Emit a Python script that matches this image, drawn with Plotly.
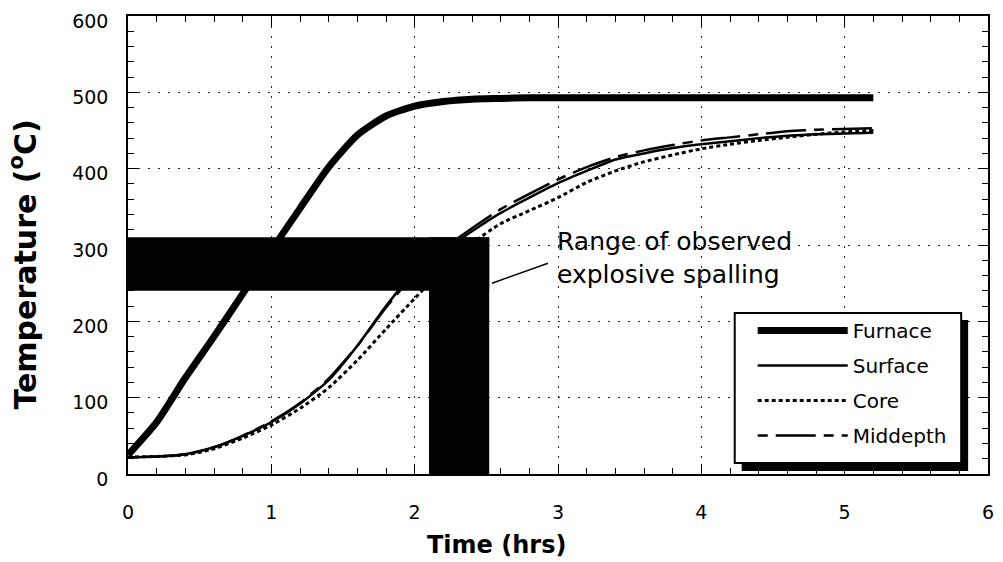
import plotly.graph_objects as go

# Time axis shared by all temperature records (hours)
time_hrs = [0, 0.2, 0.4, 0.6, 0.8, 1.0, 1.2, 1.4, 1.6, 1.8, 2.0, 2.2, 2.4,
            2.6, 2.8, 3.0, 3.2, 3.4, 3.6, 3.8, 4.0, 4.2, 4.4, 4.6, 4.8, 5.0, 5.2]

# Temperatures (deg C)
furnace = [25, 68, 126, 180, 236, 293, 348, 402, 444, 469, 482, 488, 491,
           492, 493, 493, 493, 493, 493, 493, 493, 493, 493, 493, 493, 493, 493]
surface = [22, 23, 26, 35, 50, 68, 92, 123, 168, 220, 265, 292, 318,
           342, 362, 381, 397, 412, 420, 427, 432, 436, 440, 443, 445, 446, 447]
core = [22, 23, 25, 33, 47, 64, 86, 113, 149, 190, 230, 268, 302,
        328, 345, 362, 382, 397, 409, 418, 426, 432, 437, 441, 445, 448, 450]
middepth = [22, 23, 26, 35, 50, 69, 93, 125, 168, 218, 262, 295, 322,
            347, 367, 386, 402, 415, 424, 431, 437, 441, 445, 449, 451, 452, 453]

# Range of observed explosive spalling
spall_time = [2.1, 2.52]     # hours
spall_temp = [240, 310]      # deg C

x_ticks = [0, 1, 2, 3, 4, 5, 6]
y_ticks = [0, 100, 200, 300, 400, 500, 600]

FONT = "DejaVu Sans"

fig = go.Figure()

series = [
    ("Furnace", furnace, dict(color="black", width=7)),
    ("Surface", surface, dict(color="black", width=2.5)),
    ("Core", core, dict(color="black", width=3, dash="4px,3px")),
    ("Middepth", middepth, dict(color="black", width=2.5, dash="10px,8px,40px,8px")),
]
for name, vals, line in series:
    fig.add_trace(go.Scatter(
        x=time_hrs, y=vals, name=name, mode="lines",
        line=dict(shape="spline", smoothing=0.6, **line),
        legendgroup=name,
    ))

# Spalling band: horizontal temperature range and vertical time range
fig.add_shape(type="rect", xref="x", yref="y",
              x0=0, x1=spall_time[1], y0=spall_temp[0], y1=spall_temp[1],
              fillcolor="black", line=dict(width=0), layer="above")
fig.add_shape(type="rect", xref="x", yref="y",
              x0=spall_time[0], x1=spall_time[1], y0=0, y1=spall_temp[1],
              fillcolor="black", line=dict(width=0), layer="above")

# Leader line from the band to its label
fig.add_shape(type="line", xref="x", yref="y",
              x0=spall_time[1] + 0.02, y0=250, x1=2.93, y1=276,
              line=dict(color="black", width=1.5), layer="above")
fig.add_annotation(x=2.98, y=283, xref="x", yref="y",
                   text="Range of observed<br>explosive spalling",
                   showarrow=False, xanchor="left", yanchor="middle", align="left",
                   font=dict(family=FONT, size=25, color="black"))

# Legend frame with a drop shadow; the legend entries sit on top of it
fig.add_shape(type="rect", xref="paper", yref="paper",
              x0=0.7136, x1=0.9769, y0=0.0066, y1=0.3362,
              fillcolor="black", line=dict(width=0), layer="above")
fig.add_shape(type="rect", xref="paper", yref="paper",
              x0=0.7055, x1=0.9688, y0=0.0240, y1=0.3515,
              fillcolor="white", line=dict(color="black", width=2), layer="above")

# Axis titles
fig.add_annotation(x=0.4284, y=-0.155, xref="paper", yref="paper",
                   text="<b>Time (hrs)</b>", showarrow=False,
                   xanchor="center", yanchor="middle",
                   font=dict(family=FONT, size=24, color="black"))
fig.add_annotation(x=-0.1212, y=0.457, xref="paper", yref="paper",
                   text="<b>Temperature (<sup>o</sup>C)</b>", showarrow=False,
                   textangle=-90, xanchor="center", yanchor="middle",
                   font=dict(family=FONT, size=30, color="black"))

axis_common = dict(
    showline=True, linecolor="black", linewidth=1.5, mirror="ticks",
    ticks="inside", ticklen=10, tickwidth=1.2, tickcolor="black",
    showgrid=True, gridcolor="#222", gridwidth=1, griddash="2px,8px",
    zeroline=False, ticklabeloverflow="allow",
    tickfont=dict(family=FONT, size=19, color="black"),
)

fig.update_xaxes(range=[0, 6], tickvals=x_ticks, ticklabelstandoff=20,
                 minor=dict(dtick=0.2, ticks="inside", ticklen=6,
                            tickcolor="black", showgrid=False),
                 **axis_common)
fig.update_yaxes(range=[0, 600], tickvals=y_ticks, ticklabelstandoff=14,
                 ticklabelshift=5,
                 minor=dict(dtick=20, ticks="inside", ticklen=6,
                            tickcolor="black", showgrid=False),
                 **axis_common)

fig.update_layout(
    width=1003, height=562,
    margin=dict(l=128, r=9, t=16, b=88),
    paper_bgcolor="white", plot_bgcolor="white",
    showlegend=True,
    legend=dict(
        x=0.7264, y=0.3559, xanchor="left", yanchor="top",
        bgcolor="rgba(0,0,0,0)", borderwidth=0,
        font=dict(family=FONT, size=20, color="black"),
        itemwidth=90, tracegroupgap=6,
    ),
)

fig.write_html("out.html")
